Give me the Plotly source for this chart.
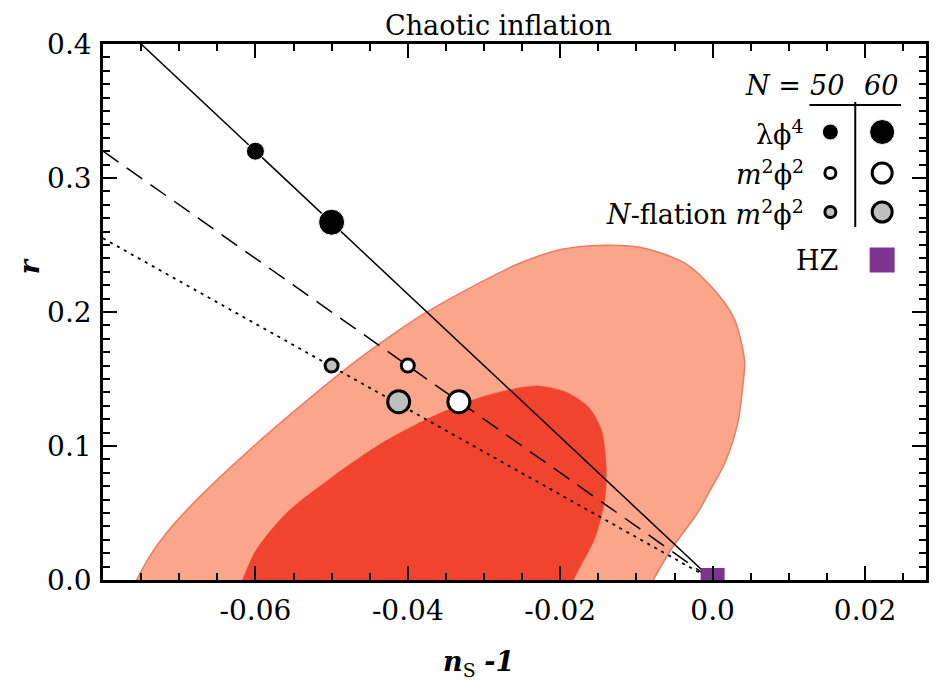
import plotly.graph_objects as go

# ---------------- data ----------------
# 95% CL contour (light)
outer_ns = [-0.0756, -0.0739, -0.0717, -0.0673, -0.0599, -0.0525, -0.0473, -0.0412,
            -0.0377, -0.0325, -0.0255, -0.0199, -0.0141, -0.0098, -0.0068, -0.0037,
            -0.0010, 0.0016, 0.0029, 0.0039, 0.0042, 0.0039, 0.0033, 0.0016,
            -0.0003, -0.0020, -0.0055, -0.0078]
outer_r = [0.0, 0.0174, 0.0349, 0.0622, 0.1015, 0.1374, 0.1613, 0.1863,
           0.1993, 0.2160, 0.2360, 0.2466, 0.2498, 0.2485, 0.2440, 0.2366,
           0.2239, 0.2067, 0.1940, 0.1739, 0.1619, 0.1418, 0.1172, 0.0873,
           0.0672, 0.0500, 0.0224, 0.0]
# 68% CL contour (dark)
inner_ns = [-0.0617, -0.0599, -0.0559, -0.0499, -0.0434, -0.0369, -0.0303, -0.0255,
            -0.0229, -0.0193, -0.0163, -0.0146, -0.0140, -0.0141, -0.0154, -0.0176,
            -0.0183]
inner_r = [0.0, 0.0224, 0.0500, 0.0769, 0.1022, 0.1216, 0.1366, 0.1433,
           0.1448, 0.1403, 0.1291, 0.1119, 0.0873, 0.0619, 0.0321, 0.0075,
           0.0]

# model predictions, N = 50 and N = 60
lam_ns = [-0.060, -0.050]
lam_r = [0.320, 0.267]
m2_ns = [-0.040, -0.0333]
m2_r = [0.160, 0.133]
nf_ns = [-0.050, -0.0412]
nf_r = [0.160, 0.133]
hz_ns = [0.0]
hz_r = [0.0]

# model lines
lam_line_ns = [-0.075, 0.0]
lam_line_r = [0.40, 0.0]
m2_line_ns = [-0.080, 0.0]
m2_line_r = [0.320, 0.0]
nf_line_ns = [-0.080, 0.0]
nf_line_r = [0.255, 0.0]

x_tickvals = [-0.06, -0.04, -0.02, 0.0, 0.02]
x_ticktext = ["-0.06", "-0.04", "-0.02", "0.0", "0.02"]
y_tickvals = [0.0, 0.1, 0.2, 0.3, 0.4]
y_ticktext = ["0.0", "0.1", "0.2", "0.3", "0.4"]

title_text = "Chaotic inflation"
legend_rows = ["λϕ<sup>4</sup>", "<i>m</i><sup>2</sup>ϕ<sup>2</sup>",
               "<i>N</i>-flation <i>m</i><sup>2</sup>ϕ<sup>2</sup>"]

# ---------------- figure ----------------
FONT = "DejaVu Serif"
OFF = 8  # page body margin of the browser
W, H = 938 - OFF, 686 - OFF
L, R, T, B = 103 - OFF, 9, 44 - OFF, 106
PW, PH = W - L - R, H - T - B


def px(xp):
    # xp: pixel x in the reference picture
    return (xp - OFF - L) / PW


def py(yp):
    return (T + PH - (yp - OFF)) / PH


fig = go.Figure()

fig.add_trace(go.Scatter(x=outer_ns, y=outer_r, mode="lines", fill="toself",
                         fillcolor="#FBA68B",
                         line=dict(color="#EE7A62", width=1.5, shape="spline", smoothing=0.8),
                         hoverinfo="skip", showlegend=False))
fig.add_trace(go.Scatter(x=inner_ns, y=inner_r, mode="lines", fill="toself",
                         fillcolor="#F0442F",
                         line=dict(color="#F0442F", width=0.5, shape="spline", smoothing=0.8),
                         hoverinfo="skip", showlegend=False))

fig.add_trace(go.Scatter(x=lam_line_ns, y=lam_line_r, mode="lines",
                         line=dict(color="black", width=1.5), showlegend=False))
fig.add_trace(go.Scatter(x=m2_line_ns, y=m2_line_r, mode="lines",
                         line=dict(color="black", width=1.5, dash="19px,10px"), showlegend=False))
fig.add_trace(go.Scatter(x=nf_line_ns, y=nf_line_r, mode="lines",
                         line=dict(color="black", width=1.8, dash="3px,5px"), showlegend=False))

fig.add_trace(go.Scatter(x=hz_ns, y=hz_r, mode="markers", cliponaxis=True,
                         marker=dict(symbol="square", size=24, color="#7F3590", opacity=1),
                         showlegend=False))

fig.add_trace(go.Scatter(x=lam_ns, y=lam_r, mode="markers",
                         marker=dict(size=[18, 26], color="black", opacity=1), showlegend=False))
fig.add_trace(go.Scatter(x=m2_ns, y=m2_r, mode="markers",
                         marker=dict(size=[13, 22], color="white", opacity=1,
                                     line=dict(color="black", width=3)), showlegend=False))
fig.add_trace(go.Scatter(x=nf_ns, y=nf_r, mode="markers",
                         marker=dict(size=[13, 22], color="#BDC0BE", opacity=1,
                                     line=dict(color="black", width=3)), showlegend=False))

# ---- custom legend on an overlay axis in paper units ----
lx = [px(833), px(885)]
rows_y = [py(132), py(173), py(212)]
fig.add_trace(go.Scatter(x=lx, y=[rows_y[0]] * 2, mode="markers", xaxis="x2", yaxis="y2",
                         marker=dict(size=[16, 25], color="black", opacity=1), showlegend=False))
fig.add_trace(go.Scatter(x=lx, y=[rows_y[1]] * 2, mode="markers", xaxis="x2", yaxis="y2",
                         marker=dict(size=[11, 20], color="white", opacity=1,
                                     line=dict(color="black", width=3)), showlegend=False))
fig.add_trace(go.Scatter(x=lx, y=[rows_y[2]] * 2, mode="markers", xaxis="x2", yaxis="y2",
                         marker=dict(size=[11, 20], color="#BDC0BE", opacity=1,
                                     line=dict(color="black", width=3)), showlegend=False))
fig.add_trace(go.Scatter(x=[px(885)], y=[py(260)], mode="markers", xaxis="x2", yaxis="y2",
                         marker=dict(symbol="square", size=25, color="#7F3590", opacity=1),
                         showlegend=False))

ann = []
for txt, yy in zip(legend_rows, rows_y):
    ann.append(dict(text=txt, x=px(809), y=yy, xref="paper", yref="paper",
                    xanchor="right", yanchor="middle", showarrow=False,
                    font=dict(family=FONT, size=27, color="black")))
ann.append(dict(text="HZ", x=px(843), y=py(260), xref="paper", yref="paper",
                xanchor="right", yanchor="middle", showarrow=False,
                font=dict(family=FONT, size=27, color="black")))
ann.append(dict(text="<i>N</i> =", x=px(806), y=py(85), xref="paper", yref="paper",
                xanchor="right", yanchor="middle", showarrow=False,
                font=dict(family=FONT, size=27, color="black")))
ann.append(dict(text="<i>50</i>", x=px(830), y=py(85), xref="paper", yref="paper",
                xanchor="center", yanchor="middle", showarrow=False,
                font=dict(family=FONT, size=27, color="black")))
ann.append(dict(text="<i>60</i>", x=px(884), y=py(85), xref="paper", yref="paper",
                xanchor="center", yanchor="middle", showarrow=False,
                font=dict(family=FONT, size=27, color="black")))
# title and axis titles
ann.append(dict(text=title_text, x=px(500), y=py(OFF), xref="paper", yref="paper",
                xanchor="center", yanchor="top", showarrow=False,
                font=dict(family=FONT, size=27, color="black")))
ann.append(dict(text="<b><i>r</i></b>", x=px(29), y=py(266), xref="paper", yref="paper",
                xanchor="center", yanchor="middle", showarrow=False, textangle=-90,
                font=dict(family=FONT, size=27, color="black")))
ann.append(dict(text="<b><i>n</i></b><sub>S</sub> <b><i>-1</i></b>", x=px(480), y=py(663),
                xref="paper", yref="paper", xanchor="center", yanchor="middle",
                showarrow=False, font=dict(family=FONT, size=27, color="black")))

shapes = [
    dict(type="line", xref="paper", yref="paper", x0=px(812), x1=px(904),
         y0=py(105), y1=py(105), line=dict(color="black", width=2)),
    dict(type="line", xref="paper", yref="paper", x0=px(858), x1=px(858),
         y0=py(102), y1=py(227), line=dict(color="black", width=2)),
]

axis_common = dict(showgrid=False, zeroline=False, showline=True, linecolor="black",
                   linewidth=2.5, mirror="ticks", ticks="inside", tickcolor="black",
                   tickwidth=2, ticklen=14,
                   tickfont=dict(family=FONT, size=28, color="black"))

fig.update_layout(
    width=W, height=H,
    margin=dict(l=L, r=R, t=T, b=B),
    paper_bgcolor="white", plot_bgcolor="white",
    showlegend=False,
    xaxis=dict(range=[-0.08, 0.028], tickvals=x_tickvals, ticktext=x_ticktext,
               minor=dict(dtick=0.005, ticks="inside", ticklen=7, tickwidth=1.5,
                          tickcolor="black"),
               ticklabelstandoff=4, **axis_common),
    yaxis=dict(range=[0.0, 0.4], tickvals=y_tickvals, ticktext=y_ticktext,
               minor=dict(dtick=0.01, ticks="inside", ticklen=7, tickwidth=1.5,
                          tickcolor="black"),
               ticklabelstandoff=3, **axis_common),
    xaxis2=dict(range=[0, 1], overlaying="x", visible=False, fixedrange=True),
    yaxis2=dict(range=[0, 1], overlaying="y", visible=False, fixedrange=True),
    annotations=ann,
    shapes=shapes,
)

fig.write_html("out.html")
